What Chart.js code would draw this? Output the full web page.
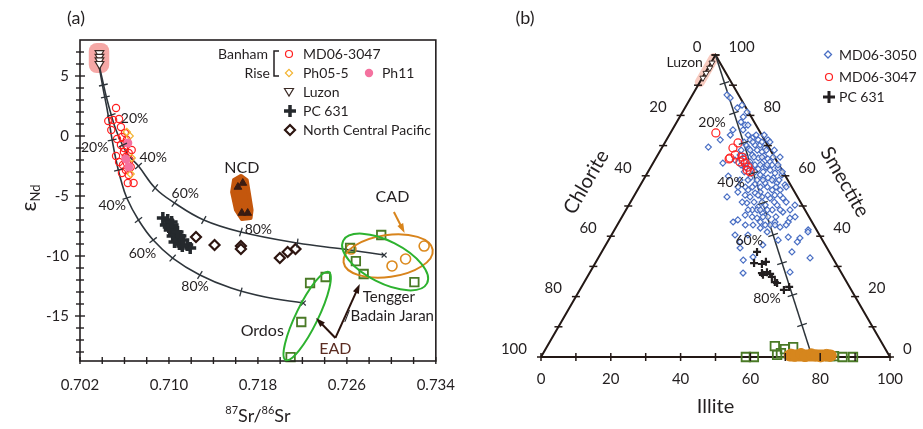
<!DOCTYPE html>
<html>
<head>
<meta charset="utf-8">
<script src="https://cdn.jsdelivr.net/npm/chart.js@4.4.1/dist/chart.umd.min.js"></script>
<style>
  html, body { margin: 0; padding: 0; background: #fff; }
  #wrap { position: relative; width: 923px; height: 429px; overflow: hidden; }
  #chartA { position: absolute; left: 0; top: 0; }
  #chartB { position: absolute; left: 470px; top: 0; }
</style>
</head>
<body>
<div id="wrap">
  <canvas id="chartA" width="470" height="429"></canvas>
  <canvas id="chartB" width="453" height="429"></canvas>
</div>
<script>
const FONT = 'Lato, "Open Sans", "DejaVu Sans", sans-serif';
const INK = "#231f20";

// ---------- panel (a): 87Sr/86Sr vs eNd ----------
const srTicks = [0.702, 0.71, 0.718, 0.726, 0.734];
const ndTicks = [-15, -10, -5, 0, 5];

const luzonSr = [0.70375, 0.70375, 0.70375, 0.70375];
const luzonNd = [6.9, 6.6, 6.3, 6.0];

const md3047Sr = [0.70524, 0.70454, 0.70498, 0.70551, 0.70481, 0.70568, 0.70577, 0.70533, 0.70621, 0.70568, 0.70595, 0.70524, 0.70638, 0.70551, 0.70612, 0.70621, 0.70577, 0.70638, 0.7063, 0.70682, 0.70612, 0.70656, 0.70595, 0.70647, 0.70586, 0.70665, 0.70604];
const md3047Nd = [2.33, 1.25, 1.33, 1.42, 0.5, 0.75, -0.08, -0.25, -0.33, -0.75, -1.0, -1.67, -1.42, -2.17, -1.75, -2.25, -3.08, -3.25, -3.92, -3.92, -2.83, -2.58, -1.33, -2.0, -2.42, -1.17, 0.25];

const ph055Sr = [0.70621, 0.70647, 0.70665, 0.70656];
const ph055Nd = [0.33, 0.0, -1.83, -3.17];

const ph11Sr = [0.7063, 0.70612, 0.70638];
const ph11Nd = [-0.58, -1.92, -2.58];

const pc631Sr = [0.70945, 0.70989, 0.70972, 0.71033, 0.71007, 0.71059, 0.71033, 0.71077, 0.7105, 0.71094, 0.71129, 0.71164, 0.71191, 0.70998, 0.71024, 0.71103, 0.71077, 0.7112];
const pc631Nd = [-6.83, -7.0, -7.42, -7.42, -7.83, -8.0, -8.33, -8.5, -8.83, -9.0, -8.67, -9.08, -9.33, -7.58, -7.17, -8.33, -8.0, -9.17];

const ncpSr = [0.71243, 0.7141, 0.71647, 0.71647, 0.71997, 0.72067, 0.72138];
const ncpNd = [-8.42, -9.08, -9.17, -9.42, -10.17, -9.67, -9.42];

const ncdSr = [0.7162, 0.71664, 0.71655, 0.71708];
const ncdNd = [-4.25, -3.92, -6.42, -6.42];
const ncdFieldSr = [0.71585, 0.71647, 0.71699, 0.71717, 0.71743, 0.71734, 0.71655, 0.71603, 0.71568];
const ncdFieldNd = [-3.67, -3.33, -3.67, -4.67, -6.17, -6.83, -6.92, -6.17, -4.67];

const eadSr = [0.72629, 0.72681, 0.72751, 0.72909, 0.73207, 0.72269, 0.72409, 0.7219, 0.72094];
const eadNd = [-9.33, -10.42, -11.5, -8.25, -12.17, -12.25, -11.75, -15.5, -18.42];

const cadSr = [0.72637, 0.73006, 0.73128, 0.73295];
const cadNd = [-9.42, -10.83, -10.25, -9.17];

// mixing curves Luzon -> CAD and Luzon -> Ordos
const mixCadSr = [0.70367, 0.70402, 0.70437, 0.70481, 0.70524, 0.70621, 0.70726, 0.70875, 0.7105, 0.71313, 0.71647, 0.72155, 0.72567, 0.72935];
const mixCadNd = [6.08, 4.67, 3.25, 1.75, 0.5, -1.42, -2.5, -4.33, -5.58, -7.0, -8.0, -8.92, -9.42, -9.92];
const mixCadTickSr = [0.7041, 0.70481, 0.70586, 0.70726, 0.70875, 0.7105, 0.71313, 0.71647, 0.72155];
const mixCadTickNd = [4.25, 1.75, -0.75, -2.5, -4.33, -5.58, -7.0, -8.0, -8.92];

const mixOrdosSr = [0.70367, 0.7041, 0.70445, 0.70489, 0.70524, 0.70568, 0.70621, 0.70726, 0.70858, 0.71033, 0.71278, 0.71559, 0.71866, 0.72208];
const mixOrdosNd = [6.08, 3.83, 2.17, -0.33, -2.0, -3.67, -5.17, -7.0, -8.67, -10.17, -11.58, -12.67, -13.42, -13.92];
const mixOrdosTickSr = [0.70428, 0.70489, 0.70546, 0.70621, 0.70726, 0.70858, 0.71033, 0.71278, 0.71647];
const mixOrdosTickNd = [3.25, -0.33, -2.83, -5.17, -7.0, -8.67, -10.17, -11.58, -13.0];

const luzonBoxSr = [0.70279, 0.70463];
const luzonBoxNd = [5.25, 7.75];

const fieldEllipses = [
  { sr: 0.72971, nd: -10.0, rx: 45, ry: 21, rot: -8, color: "#d8841c" },
  { sr: 0.72944, nd: -10.5, rx: 47, ry: 21, rot: 27, color: "#2db22f" },
  { sr: 0.72243, nd: -15.0, rx: 49, ry: 11, rot: -64, color: "#2db22f" },
];

const arrowsA = [
  { from: [0.73023, -6.33], to: [0.73119, -8.08], color: "#d8841c" },
  { from: [0.72497, -16.83], to: [0.72322, -15.17], color: "#2a120c" },
  { from: [0.72497, -16.83], to: [0.72716, -12.33], color: "#2a120c" },
];

const notesA = [
  { t: "NCD", sr: 0.71655, nd: -2.67, size: 16 },
  { t: "CAD", sr: 0.7301, nd: -5.08, size: 16 },
  { t: "Tengger", sr: 0.72978, nd: -13.42, size: 15 },
  { t: "/Badain Jaran", sr: 0.72978, nd: -15.0, size: 15 },
  { t: "Ordos", sr: 0.71839, nd: -16.25, size: 16 },
  { t: "EAD", sr: 0.72497, nd: -17.75, size: 16, color: "#5b2c22" },
  { t: "20%", sr: 0.70691, nd: 1.5, size: 14 },
  { t: "40%", sr: 0.70858, nd: -1.83, size: 14 },
  { t: "60%", sr: 0.71147, nd: -4.75, size: 14 },
  { t: "80%", sr: 0.71804, nd: -7.75, size: 14 },
  { t: "20%", sr: 0.70332, nd: -0.92, size: 14 },
  { t: "40%", sr: 0.70489, nd: -5.83, size: 14 },
  { t: "60%", sr: 0.70761, nd: -9.75, size: 14 },
  { t: "80%", sr: 0.71235, nd: -12.58, size: 14 },
];

// ---------- panel (b): ternary clay minerals (illite, smectite; chlorite = rest) ----------
const md3050Illite = [11.3, 18.2, 18.4, 17.4, 13.2, 15.0, 20.1, 20.3, 24.3, 26.2, 25.2, 27.7, 29.4, 32.2, 20.0, 31.2, 33.1, 31.1, 34.7, 36.6, 33.8, 38.8, 32.7, 36.7, 35.5, 40.9, 29.1, 30.4, 26.8, 39.3, 42.5, 37.4, 33.5, 45.3, 41.8, 32.7, 33.7, 48.5, 55.5, 44.7, 47.0, 38.9, 24.0, 26.3, 23.6, 27.7, 29.6, 27.1, 29.3, 30.6, 33.3, 27.6, 29.5, 27.2, 34.4, 32.7, 35.4, 30.3, 32.6, 36.9, 35.4, 31.7, 34.2, 38.6, 40.2, 36.8, 33.4, 39.1, 36.2, 41.9, 39.5, 35.0, 38.9, 43.8, 43.0, 41.5, 39.1, 44.1, 37.6, 47.0, 40.5, 48.3, 55.8, 38.0, 51.0, 54.4, 54.5, 39.0, 54.5, 44.2, 41.9, 60.7, 44.0, 57.3, 9.9, 17.5, 15.4, 23.7, 15.9, 20.9, 41.4, 47.6, 48.6, 45.0, 35.4, 29.6, 36.6, 23.6, 29.1, 18.5, 23.0, 38.9,
  22.6, 24.9, 27.2, 22.6, 25.1, 27.7, 30.0, 23.1, 25.7, 30.3, 32.6, 25.4, 27.9, 30.2, 33.4, 35.4, 25.5, 28.1, 31.0, 33.0, 36.1, 27.6, 30.7, 33.0, 38.5, 27.7, 30.0, 34.3, 36.9, 38.9, 28.3, 32.4, 34.7, 39.2, 42.1, 31.7, 35.4, 38.2, 41.7, 32.0, 35.4, 37.7, 41.2, 44.6, 35.0, 38.5, 40.5, 44.2, 37.3, 40.4, 44.1, 49.6, 36.7, 42.4, 45.2, 48.4];
const md3050Smectite = [85.8, 79.5, 77.8, 75.2, 69.5, 82.5, 76.8, 75.2, 72.5, 70.2, 68.9, 68.5, 67.9, 65.6, 64.2, 64.2, 62.9, 62.3, 61.9, 60.9, 59.6, 57.6, 57.3, 56.3, 54.6, 55.3, 54.6, 56.3, 53.0, 52.6, 50.3, 49.7, 51.0, 48.0, 46.4, 44.7, 45.4, 44.7, 42.1, 44.7, 43.0, 43.7, 71.9, 71.9, 70.2, 70.2, 69.2, 66.9, 65.9, 66.6, 64.6, 64.6, 63.6, 62.6, 63.6, 60.3, 59.3, 59.3, 58.6, 59.3, 57.6, 55.3, 54.3, 55.3, 53.6, 53.0, 53.0, 50.3, 48.7, 48.7, 47.7, 47.0, 46.0, 43.7, 52.6, 42.7, 40.4, 41.4, 48.7, 48.7, 44.7, 46.0, 41.4, 38.1, 39.7, 38.1, 39.4, 36.1, 34.8, 33.1, 32.1, 32.8, 27.8, 28.1, 86.8, 73.5, 71.9, 59.9, 83.4, 76.8, 57.0, 50.3, 38.7, 37.1, 40.4, 61.9, 62.6, 66.9, 71.9, 81.1, 65.2, 60.3,
  73.5, 73.5, 73.5, 71.2, 71.2, 71.2, 71.2, 68.5, 68.5, 68.5, 68.5, 66.2, 66.2, 66.2, 66.2, 66.2, 63.6, 63.6, 63.6, 63.6, 63.6, 61.3, 61.3, 61.3, 61.3, 58.6, 58.6, 58.6, 58.6, 58.6, 56.3, 56.3, 56.3, 56.3, 56.3, 53.6, 53.6, 53.6, 53.6, 51.3, 51.3, 51.3, 51.3, 51.3, 48.7, 48.7, 48.7, 48.7, 46.4, 46.4, 46.4, 46.4, 43.7, 43.7, 43.7, 43.7];

const md3047Illite = [13.0, 21.0, 20.4, 21.2, 22.2, 24.5, 24.7, 26.4, 27.9, 28.1, 29.3, 25.3, 21.1];
const md3047Smectite = [74.2, 70.9, 69.2, 65.9, 66.9, 66.2, 64.6, 64.2, 62.9, 61.9, 61.3, 65.2, 65.6];

const pc631Illite = [44.5, 45.5, 47.9, 48.7, 49.4, 50.7, 51.9, 50.0, 52.9, 54.6, 55.4, 58.5, 59.5];
const pc631Smectite = [34.8, 31.1, 30.8, 31.5, 27.8, 28.1, 27.5, 27.2, 26.5, 24.8, 24.5, 22.2, 23.2];

const luzonIllite = [0.3, 0.5, 0.3, 0.2];
const luzonSmectite = [97.4, 95.7, 94.0, 92.4];

const eadIllite = [58.7, 61.0, 65.2, 67.3, 68.6, 68.1, 70.6, 83.8, 86.4, 89.4, 82.7];
const eadSmectite = [0, 0, 3.6, 0.7, 2.6, 1.3, 3.3, 0.3, 0, 0, 0.3];

const cadIllite = [71.2, 72.5, 74.0, 75.5, 77.0, 78.4, 80.0, 81.5, 82.6];
const cadSmectite = [0.8, 0.4, 1.0, 0.3, 0.9, 0.5, 0.2, 0.7, 0.4];
const cadFieldIllite = [71.0, 82.8];
const cadFieldSmectite = [0.5, 0.5];

const mixIllite = [0, 77.7];
const mixSmectite = [100, 0];
const mixTickIllite = [7.2, 14.9, 22.6, 30.4, 38.1, 46.3, 53.5, 61.8, 69.5];
const mixTickSmectite = [90.7, 80.8, 70.9, 60.9, 51.0, 40.4, 31.1, 20.5, 10.6];

const triIllite = [0, 100, 0, 0];
const triSmectite = [0, 0, 100, 0];
const ternaryTicks = [0, 20, 40, 60, 80, 100];

const notesB = [
  { t: "20%", i: 10.1, s: 77.8 },
  { t: "40%", i: 25.5, s: 57.9 },
  { t: "60%", i: 40.3, s: 38.7 },
  { t: "80%", i: 55.0, s: 19.5 },
];

// ---------- helpers ----------
const zip = (xs, ys) => xs.map((x, i) => ({ x, y: ys[i] }));
const tern = (ill, sme) => ({ x: ill + sme / 2, y: sme * 0.866 });
const ternSet = (ills, smes) => ills.map((v, i) => tern(v, smes[i]));

function seg(ctx, x0, y0, x1, y1) {
  ctx.beginPath();
  ctx.moveTo(x0, y0);
  ctx.lineTo(x1, y1);
  ctx.stroke();
}

function text(ctx, t, x, y, size, opts = {}) {
  ctx.save();
  ctx.font = `${size}px ${FONT}`;
  ctx.fillStyle = opts.color || INK;
  ctx.textAlign = opts.align || "center";
  ctx.textBaseline = "middle";
  ctx.translate(x, y);
  if (opts.rot) ctx.rotate((opts.rot * Math.PI) / 180);
  ctx.fillText(t, 0, 0);
  ctx.restore();
}

function arrow(ctx, x0, y0, x1, y1, color) {
  const a = Math.atan2(y1 - y0, x1 - x0);
  const h = 10;
  ctx.save();
  ctx.strokeStyle = color;
  ctx.fillStyle = color;
  ctx.lineWidth = 2;
  seg(ctx, x0, y0, x1 - Math.cos(a) * h * 0.7, y1 - Math.sin(a) * h * 0.7);
  ctx.beginPath();
  ctx.moveTo(x1, y1);
  ctx.lineTo(x1 - h * Math.cos(a - 0.33), y1 - h * Math.sin(a - 0.33));
  ctx.lineTo(x1 - h * Math.cos(a + 0.33), y1 - h * Math.sin(a + 0.33));
  ctx.closePath();
  ctx.fill();
  ctx.restore();
}

// short marks across a polyline, at given pixel points
function crossTicks(ctx, line, marks, half) {
  marks.forEach((p) => {
    let best = 0;
    let bd = Infinity;
    for (let k = 0; k < line.length - 1; k++) {
      const mx = (line[k][0] + line[k + 1][0]) / 2;
      const my = (line[k][1] + line[k + 1][1]) / 2;
      const d = (mx - p[0]) ** 2 + (my - p[1]) ** 2;
      if (d < bd) { bd = d; best = k; }
    }
    const dx = line[best + 1][0] - line[best][0];
    const dy = line[best + 1][1] - line[best][1];
    const L = Math.hypot(dx, dy) || 1;
    const nx = (-dy / L) * half;
    const ny = (dx / L) * half;
    seg(ctx, p[0] - nx, p[1] - ny, p[0] + nx, p[1] + ny);
  });
}

function marker(ctx, kind, x, y, color) {
  ctx.save();
  ctx.strokeStyle = color;
  ctx.fillStyle = color;
  ctx.beginPath();
  if (kind === "circle") {
    ctx.lineWidth = 1.2;
    ctx.arc(x, y, 3.5, 0, Math.PI * 2);
    ctx.stroke();
  } else if (kind === "dot") {
    ctx.arc(x, y, 4.2, 0, Math.PI * 2);
    ctx.fill();
  } else if (kind === "diamond" || kind === "diamondBold") {
    const r = kind === "diamond" ? 3.6 : 5;
    ctx.lineWidth = kind === "diamond" ? 1.2 : 2.2;
    ctx.moveTo(x, y - r); ctx.lineTo(x + r, y); ctx.lineTo(x, y + r); ctx.lineTo(x - r, y);
    ctx.closePath();
    ctx.stroke();
  } else if (kind === "tri") {
    ctx.lineWidth = 1.2;
    ctx.moveTo(x - 4.5, y - 3.5); ctx.lineTo(x + 4.5, y - 3.5); ctx.lineTo(x, y + 4);
    ctx.closePath();
    ctx.stroke();
  } else if (kind === "plus") {
    ctx.lineWidth = 3.5;
    ctx.moveTo(x - 6, y); ctx.lineTo(x + 6, y);
    ctx.moveTo(x, y - 6); ctx.lineTo(x, y + 6);
    ctx.stroke();
  }
  ctx.restore();
}

// ---------- panel (a) drawing ----------
const panelA = {
  id: "panelA",
  beforeDatasetsDraw(chart) {
    const { ctx } = chart;
    const sx = chart.scales.x;
    const sy = chart.scales.y;
    ctx.save();
    const bx0 = sx.getPixelForValue(luzonBoxSr[0]);
    const bx1 = sx.getPixelForValue(luzonBoxSr[1]);
    const by0 = sy.getPixelForValue(luzonBoxNd[1]);
    const by1 = sy.getPixelForValue(luzonBoxNd[0]);
    ctx.fillStyle = "#f6a8a6";
    ctx.beginPath();
    if (ctx.roundRect) ctx.roundRect(bx0, by0, bx1 - bx0, by1 - by0, 8);
    else ctx.rect(bx0, by0, bx1 - bx0, by1 - by0);
    ctx.fill();

    ctx.fillStyle = "#c4570d";
    ctx.strokeStyle = "#c4570d";
    ctx.lineWidth = 4;
    ctx.lineJoin = "round";
    ctx.beginPath();
    ncdFieldSr.forEach((v, i) => {
      const X = sx.getPixelForValue(v);
      const Y = sy.getPixelForValue(ncdFieldNd[i]);
      if (i) ctx.lineTo(X, Y); else ctx.moveTo(X, Y);
    });
    ctx.closePath();
    ctx.fill();
    ctx.stroke();
    ctx.restore();
  },
  afterDatasetsDraw(chart) {
    const { ctx, chartArea: ca } = chart;
    const sx = chart.scales.x;
    const sy = chart.scales.y;
    const P = (a, b) => [sx.getPixelForValue(a), sy.getPixelForValue(b)];
    ctx.save();

    // frame and axis ticks
    ctx.strokeStyle = INK;
    ctx.lineWidth = 1.6;
    ctx.strokeRect(ca.left, ca.top, ca.right - ca.left, ca.bottom - ca.top);
    ctx.lineWidth = 1.4;
    for (let k = 0; k <= 16; k++) {
      const X = sx.getPixelForValue(0.702 + k * 0.002);
      seg(ctx, X, ca.bottom - 4, X, ca.bottom + 3);
    }
    for (let v = -18; v <= 7; v++) {
      const Y = sy.getPixelForValue(v);
      const major = v % 5 === 0;
      seg(ctx, ca.left - (major ? 5 : 4), Y, ca.left + (major ? 5 : 4), Y);
    }

    // field outlines
    fieldEllipses.forEach((e) => {
      const [cx, cy] = P(e.sr, e.nd);
      ctx.strokeStyle = e.color;
      ctx.lineWidth = 2;
      ctx.beginPath();
      ctx.ellipse(cx, cy, e.rx, e.ry, (e.rot * Math.PI) / 180, 0, Math.PI * 2);
      ctx.stroke();
    });

    // ticks along mixing curves
    ctx.strokeStyle = "#2e353b";
    ctx.lineWidth = 1.3;
    crossTicks(ctx, mixCadSr.map((v, i) => P(v, mixCadNd[i])), mixCadTickSr.map((v, i) => P(v, mixCadTickNd[i])), 4.5);
    crossTicks(ctx, mixOrdosSr.map((v, i) => P(v, mixOrdosNd[i])), mixOrdosTickSr.map((v, i) => P(v, mixOrdosTickNd[i])), 4.5);

    arrowsA.forEach((a) => {
      const [x0, y0] = P(a.from[0], a.from[1]);
      const [x1, y1] = P(a.to[0], a.to[1]);
      arrow(ctx, x0, y0, x1, y1, a.color);
    });

    notesA.forEach((n) => {
      const [x, y] = P(n.sr, n.nd);
      text(ctx, n.t, x, y, n.size, { color: n.color });
    });

    // legend
    text(ctx, "Banham", 268, 54, 14, { align: "right" });
    text(ctx, "Rise", 270, 73, 14, { align: "right" });
    ctx.strokeStyle = INK;
    ctx.lineWidth = 1.5;
    ctx.beginPath();
    ctx.moveTo(279, 51); ctx.lineTo(274, 51); ctx.lineTo(274, 76); ctx.lineTo(279, 76);
    ctx.stroke();
    marker(ctx, "circle", 289, 54, "#ff1f1f");
    marker(ctx, "diamond", 289, 73, "#f3b431");
    marker(ctx, "dot", 369, 73, "#f4729f");
    marker(ctx, "tri", 289, 92, "#3a2a25");
    marker(ctx, "plus", 290, 111, "#25292d");
    marker(ctx, "diamondBold", 290, 130, "#2d1510");
    text(ctx, "MD06-3047", 303, 54, 14, { align: "left" });
    text(ctx, "Ph05-5", 303, 73, 14, { align: "left" });
    text(ctx, "Ph11", 382, 73, 14, { align: "left" });
    text(ctx, "Luzon", 303, 92, 14, { align: "left" });
    text(ctx, "PC 631", 303, 111, 14, { align: "left" });
    text(ctx, "North Central Pacific", 303, 130, 14, { align: "left" });

    // panel tag and axis titles
    text(ctx, "(a)", 76, 18, 18);
    ctx.save();
    ctx.translate(29, 198);
    ctx.rotate(-Math.PI / 2);
    ctx.fillStyle = INK;
    ctx.textBaseline = "alphabetic";
    ctx.font = `22px ${FONT}`;
    const wE = ctx.measureText("ε").width;
    ctx.font = `13px ${FONT}`;
    const wN = ctx.measureText("Nd").width;
    const startX = -(wE + wN) / 2;
    ctx.font = `22px ${FONT}`;
    ctx.fillText("ε", startX, 7);
    ctx.font = `13px ${FONT}`;
    ctx.fillText("Nd", startX + wE, 11);
    ctx.restore();

    const parts = [["87", 11, -8], ["Sr/", 18, 0], ["86", 11, -8], ["Sr", 18, 0]];
    ctx.save();
    ctx.fillStyle = INK;
    ctx.textBaseline = "alphabetic";
    let total = 0;
    parts.forEach((p) => { ctx.font = `${p[1]}px ${FONT}`; total += ctx.measureText(p[0]).width; });
    let cx = (ca.left + ca.right) / 2 - total / 2;
    parts.forEach((p) => {
      ctx.font = `${p[1]}px ${FONT}`;
      ctx.fillText(p[0], cx, 422 + p[2]);
      cx += ctx.measureText(p[0]).width;
    });
    ctx.restore();

    ctx.restore();
  },
};

const curveStyle = { showLine: true, borderColor: "#2e353b", borderWidth: 1.6, pointRadius: 0, tension: 0.4, clip: false, order: 6 };

new Chart(document.getElementById("chartA"), {
  type: "scatter",
  data: {
    datasets: [
      { ...curveStyle, label: "Luzon-CAD", data: zip(mixCadSr, mixCadNd) },
      { ...curveStyle, label: "Luzon-Ordos", data: zip(mixOrdosSr, mixOrdosNd) },
      {
        label: "end members",
        data: [
          { x: mixCadSr[mixCadSr.length - 1], y: mixCadNd[mixCadNd.length - 1] },
          { x: mixOrdosSr[mixOrdosSr.length - 1], y: mixOrdosNd[mixOrdosNd.length - 1] },
        ],
        pointStyle: "crossRot", pointRadius: 3.5, borderColor: "#2e353b", borderWidth: 1.2, clip: false, order: 5,
      },
      { label: "Luzon", data: zip(luzonSr, luzonNd), pointStyle: "triangle", rotation: 180, pointRadius: 5, borderColor: "#3a2a25", backgroundColor: "#fff", borderWidth: 1.2, clip: false, order: 2 },
      { label: "MD06-3047", data: zip(md3047Sr, md3047Nd), pointStyle: "circle", pointRadius: 3.6, borderColor: "#ff1f1f", backgroundColor: "rgba(0,0,0,0)", borderWidth: 1.2, clip: false, order: 3 },
      { label: "Ph05-5", data: zip(ph055Sr, ph055Nd), pointStyle: "rectRot", pointRadius: 3.6, borderColor: "#f3b431", backgroundColor: "rgba(0,0,0,0)", borderWidth: 1.2, clip: false, order: 2 },
      { label: "Ph11", data: zip(ph11Sr, ph11Nd), pointStyle: "circle", pointRadius: 4.5, borderColor: "#f4729f", backgroundColor: "#f4729f", borderWidth: 0, clip: false, order: 1 },
      { label: "PC 631", data: zip(pc631Sr, pc631Nd), pointStyle: "cross", pointRadius: 6, borderColor: "#25292d", borderWidth: 3.5, clip: false, order: 2 },
      { label: "North Central Pacific", data: zip(ncpSr, ncpNd), pointStyle: "rectRot", pointRadius: 5, borderColor: "#2d1510", backgroundColor: "#fff", borderWidth: 2.2, clip: false, order: 2 },
      { label: "NCD", data: zip(ncdSr, ncdNd), pointStyle: "triangle", pointRadius: 4.5, borderColor: "#3b1c12", backgroundColor: "#3b1c12", borderWidth: 1, clip: false, order: 2 },
      { label: "EAD", data: zip(eadSr, eadNd), pointStyle: "rect", pointRadius: 6, borderColor: "#4a7a26", backgroundColor: "rgba(0,0,0,0)", borderWidth: 1.8, clip: false, order: 2 },
      { label: "CAD", data: zip(cadSr, cadNd), pointStyle: "circle", pointRadius: 5, borderColor: "#dc8a1e", backgroundColor: "rgba(0,0,0,0)", borderWidth: 1.6, clip: false, order: 2 },
    ],
  },
  options: {
    responsive: false,
    animation: false,
    events: [],
    layout: { padding: { left: 0, top: 40, right: 25, bottom: 0 } },
    plugins: { legend: { display: false }, tooltip: { enabled: false } },
    scales: {
      x: {
        type: "linear", min: 0.702, max: 0.734,
        afterBuildTicks: (s) => { s.ticks = srTicks.map((v) => ({ value: v })); },
        afterFit: (s) => { s.height = 68; },
        grid: { display: false, drawTicks: false },
        border: { display: false },
        ticks: { padding: 15, color: INK, font: { family: FONT, size: 15 }, maxRotation: 0, autoSkip: false, callback: (v) => Number(v).toFixed(3) },
      },
      y: {
        type: "linear", min: -18.75, max: 8,
        afterBuildTicks: (s) => { s.ticks = ndTicks.map((v) => ({ value: v })); },
        afterFit: (s) => { s.width = 80; },
        grid: { display: false, drawTicks: false },
        border: { display: false },
        ticks: { padding: 11, color: INK, font: { family: FONT, size: 15 }, autoSkip: false, callback: (v) => String(v) },
      },
    },
  },
  plugins: [panelA],
});

// ---------- panel (b) drawing ----------
const panelB = {
  id: "panelB",
  afterDatasetsDraw(chart) {
    const { ctx } = chart;
    const sx = chart.scales.x;
    const sy = chart.scales.y;
    const P = (i, s) => { const t = tern(i, s); return [sx.getPixelForValue(t.x), sy.getPixelForValue(t.y)]; };
    ctx.save();
    ctx.strokeStyle = "#231815";
    ctx.lineWidth = 1.5;
    for (let v = 0; v <= 100; v += 10) {
      let [x, y] = P(v, 0);
      seg(ctx, x, y - 4, x, y + 4);
      [x, y] = P(0, 100 - v);
      seg(ctx, x - 4, y, x + 4, y);
      [x, y] = P(100 - v, v);
      seg(ctx, x - 4, y, x + 4, y);
    }
    ternaryTicks.forEach((v) => {
      let [x, y] = P(v, 0);
      text(ctx, String(v), x, y + 22, 15);
      [x, y] = P(0, 100 - v);
      text(ctx, String(v), x - 14, y - 8, 15, { align: "right" });
      [x, y] = P(100 - v, v);
      text(ctx, String(v), x + 13, y - 8, 15, { align: "left" });
    });

    // mixing line ticks and labels
    ctx.strokeStyle = "#2e353b";
    ctx.lineWidth = 1.3;
    crossTicks(ctx, mixIllite.map((v, i) => P(v, mixSmectite[i])), mixTickIllite.map((v, i) => P(v, mixTickSmectite[i])), 5);
    notesB.forEach((n) => {
      const [x, y] = P(n.i, n.s);
      text(ctx, n.t, x, y, 14);
    });
    const [lx, ly] = P(-2.3, 97.4);
    text(ctx, "Luzon", lx, ly, 14, { align: "right" });

    // axis titles
    const [mlx, mly] = P(0, 50);
    text(ctx, "Chlorite", mlx - 42, mly - 24, 20, { rot: -60 });
    const [mrx, mry] = P(50, 50);
    text(ctx, "Smectite", mrx + 42, mry - 24, 20, { rot: 60 });
    const [mbx, mby] = P(50, 0);
    text(ctx, "Illite", mbx, mby + 50, 20);
    text(ctx, "(b)", 55, 18, 18);

    // legend
    ctx.save();
    ctx.strokeStyle = "#4a6fc4";
    ctx.lineWidth = 1.3;
    ctx.beginPath();
    ctx.moveTo(358, 51); ctx.lineTo(361.5, 54.5); ctx.lineTo(358, 58); ctx.lineTo(354.5, 54.5);
    ctx.closePath();
    ctx.stroke();
    ctx.restore();
    marker(ctx, "circle", 359, 77, "#ff1f1f");
    ctx.save();
    ctx.strokeStyle = "#231f20";
    ctx.lineWidth = 3;
    seg(ctx, 353, 97, 365, 97);
    seg(ctx, 359, 91, 359, 103);
    ctx.restore();
    text(ctx, "MD06-3050", 369, 55, 14, { align: "left" });
    text(ctx, "MD06-3047", 369, 77, 14, { align: "left" });
    text(ctx, "PC 631", 369, 97, 14, { align: "left" });
    ctx.restore();
  },
};

new Chart(document.getElementById("chartB"), {
  type: "scatter",
  data: {
    datasets: [
      { label: "frame", data: ternSet(triIllite, triSmectite), showLine: true, borderColor: "#231815", borderWidth: 2, pointRadius: 0, tension: 0, clip: false, order: 7 },
      { label: "Luzon field", data: ternSet([0, 0], [91, 99]), showLine: true, borderColor: "rgba(242,160,140,0.55)", borderWidth: 10, borderCapStyle: "round", pointRadius: 0, clip: false, order: 8 },
      { label: "mixing", data: ternSet(mixIllite, mixSmectite), showLine: true, borderColor: "#2e353b", borderWidth: 1.5, pointRadius: 0, clip: false, order: 6 },
      { label: "MD06-3050", data: ternSet(md3050Illite, md3050Smectite), pointStyle: "rectRot", pointRadius: 3, borderColor: "#4a6fc4", backgroundColor: "rgba(255,255,255,0.7)", borderWidth: 1.2, clip: false, order: 4 },
      { label: "MD06-3047", data: ternSet(md3047Illite, md3047Smectite), pointStyle: "circle", pointRadius: 4, borderColor: "#ff1f1f", backgroundColor: "rgba(0,0,0,0)", borderWidth: 1.2, clip: false, order: 3 },
      { label: "PC 631", data: ternSet(pc631Illite, pc631Smectite), pointStyle: "cross", pointRadius: 4, borderColor: "#231f20", borderWidth: 2.2, clip: false, order: 3 },
      { label: "Luzon", data: ternSet(luzonIllite, luzonSmectite), pointStyle: "triangle", rotation: 180, pointRadius: 3.5, borderColor: "#3a2a25", backgroundColor: "#fff", borderWidth: 1, clip: false, order: 3 },
      { label: "EAD", data: ternSet(eadIllite, eadSmectite), pointStyle: "rect", pointRadius: 6, borderColor: "#4a7a26", backgroundColor: "rgba(0,0,0,0)", borderWidth: 1.8, clip: false, order: 2 },
      { label: "CAD field", data: ternSet(cadFieldIllite, cadFieldSmectite), showLine: true, borderColor: "#d6861d", borderWidth: 12, borderCapStyle: "round", pointRadius: 0, clip: false, order: 1 },
      { label: "CAD", data: ternSet(cadIllite, cadSmectite), pointStyle: "circle", pointRadius: 5.5, borderColor: "#d6861d", backgroundColor: "#d6861d", borderWidth: 1, clip: false, order: 0 },
    ],
  },
  options: {
    responsive: false,
    animation: false,
    events: [],
    layout: { padding: { left: 71, top: 55, right: 33, bottom: 72 } },
    plugins: { legend: { display: false }, tooltip: { enabled: false } },
    scales: {
      x: { type: "linear", min: 0, max: 100, display: false },
      y: { type: "linear", min: 0, max: 86.6, display: false },
    },
  },
  plugins: [panelB],
});
</script>
</body>
</html>
